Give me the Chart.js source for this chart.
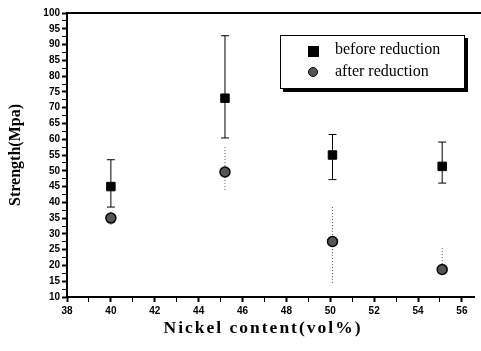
<!DOCTYPE html>
<html>
<head>
<meta charset="utf-8">
<script src="https://cdn.jsdelivr.net/npm/chart.js@4.4.1/dist/chart.umd.min.js"></script>
<style>
  body { margin: 0; background: #fff; }
  #wrap { position: relative; width: 481px; height: 351px; }
  #legend {
    position: absolute; left: 280px; top: 35px; width: 183px; height: 52px;
    border: 1px solid #000; box-shadow: 3px 3px 0 #000; background: #fff;
    font-family: "Liberation Serif", serif; font-size: 16px; color: #000;
  }
  #legend .row { position: absolute; left: 54px; }
  #legend .sq { position: absolute; left: 27px; top: 10px; width: 11px; height: 11px; background: #000; }
  #legend .ci { position: absolute; left: 27px; top: 31px; width: 8px; height: 8px; border-radius: 50%; background: #555; border: 1.5px solid #000; }
</style>
</head>
<body>
<div id="wrap">
  <canvas id="c" width="481" height="351"></canvas>
  <div id="legend">
    <div class="sq"></div><div class="row" style="top:4px">before reduction</div>
    <div class="ci"></div><div class="row" style="top:26px">after reduction</div>
  </div>
</div>
<script>
const nickel = [40, 45.2, 50.1, 55.1]
const beforeVals = [45, 73, 55, 51.4]
const beforeHi = [53.5, 92.8, 61.5, 59.1]
const beforeLo = [38.5, 60.4, 47.2, 46.1]
const afterVals = [35, 49.6, 27.6, 18.7]
const afterHi = [37, 57.5, 38.5, 25.5]
const afterLo = [32.5, 43.8, 14.4, 18.7]
const xTicks = [38, 39, 40, 41, 42, 43, 44, 45, 46, 47, 48, 49, 50, 51, 52, 53, 54, 55, 56]
const xTitle = "Nickel content(vol%)"

const errorBars = {
    id: "errorBars",
    beforeDatasetsDraw(chart) {
        const ctx = chart.ctx
        const xs = chart.scales.x, ys = chart.scales.y
        chart.data.datasets.forEach(ds => {
            ctx.save()
            ctx.strokeStyle = ds.errColor
            ctx.lineWidth = 1
            ctx.setLineDash(ds.errDash)
            ds.data.forEach((p, i) => {
                const x = xs.getPixelForValue(p.x)
                const top = ys.getPixelForValue(ds.hi[i])
                const bot = ys.getPixelForValue(ds.lo[i])
                ctx.beginPath()
                ctx.moveTo(x, top)
                ctx.lineTo(x, bot)
                ctx.stroke()
                if (ds.caps) {
                    ctx.setLineDash([])
                    ctx.beginPath()
                    ctx.moveTo(x - 4, top); ctx.lineTo(x + 4, top)
                    ctx.moveTo(x - 4, bot); ctx.lineTo(x + 4, bot)
                    ctx.stroke()
                }
            })
            ctx.restore()
        })
    },
    afterDraw(chart) {
        const a = chart.chartArea, ctx = chart.ctx
        ctx.save()
        ctx.strokeStyle = "#000"
        ctx.lineWidth = 2
        ctx.beginPath()
        ctx.moveTo(a.left, a.top)
        ctx.lineTo(chart.width, a.top)
        ctx.stroke()
        // x title, drawn by hand for the wide letter spacing
        ctx.fillStyle = "#000"
        ctx.font = "bold 17.5px 'Liberation Serif', serif"
        ctx.letterSpacing = "2px"
        ctx.textAlign = "center"
        ctx.textBaseline = "middle"
        ctx.fillText(xTitle, 263, 328)
        ctx.restore()
    }
}

const tickFont = { family: "'Liberation Sans', Arial, sans-serif", size: 10, weight: "bold" }

new Chart("c", {
    type: "scatter",
    data: {
        datasets: [{
            label: "before reduction",
            data: nickel.map((x, i) => ({ x: x, y: beforeVals[i] })),
            hi: beforeHi, lo: beforeLo,
            errColor: "#000", errDash: [], caps: true,
            pointStyle: "rect", pointRadius: 6, pointHoverRadius: 6,
            backgroundColor: "#000", borderColor: "#000"
        }, {
            label: "after reduction",
            data: nickel.map((x, i) => ({ x: x, y: afterVals[i] })),
            hi: afterHi, lo: afterLo,
            errColor: "#555", errDash: [1, 2], caps: false,
            pointStyle: "circle", pointRadius: 5, pointHoverRadius: 5,
            backgroundColor: "#555", borderColor: "#000", borderWidth: 1.5
        }]
    },
    options: {
        responsive: false,
        animation: false,
        layout: { padding: { top: 13, right: 0, left: 0, bottom: 0 } },
        plugins: { legend: { display: false }, tooltip: { enabled: false } },
        scales: {
            x: {
                type: "linear", min: 38, max: 56.55,
                afterFit: s => { s.height = 54 },
                afterBuildTicks: s => { s.ticks = xTicks.map(v => ({ value: v })) },
                border: { color: "#000", width: 2 },
                grid: { drawOnChartArea: false, tickLength: 5, tickColor: "#000",
                        tickWidth: c => (c.tick && c.tick.value % 2 === 0) ? 2 : 1 },
                ticks: { color: "#000", font: tickFont, padding: 3, maxRotation: 0,
                         autoSkip: false,
                         callback: v => v % 2 === 0 ? v : "" },
                title: { display: false }
            },
            y: {
                min: 10, max: 100,
                afterFit: s => { s.width = 67 },
                border: { color: "#000", width: 2 },
                grid: { drawOnChartArea: false, tickLength: 5, tickColor: "#000",
                        tickWidth: c => (c.tick && c.tick.value % 5 === 0) ? 2 : 1 },
                ticks: { stepSize: 2.5, color: "#000", font: tickFont, padding: 2, autoSkip: false,
                         callback: v => v % 5 === 0 ? v : "" },
                title: { display: true, text: "Strength(Mpa)", color: "#000",
                         font: { family: "'Liberation Serif', serif", size: 16, weight: "bold" },
                         padding: { bottom: 2, top: 6 } }
            }
        }
    },
    plugins: [errorBars]
})
</script>
</body>
</html>
